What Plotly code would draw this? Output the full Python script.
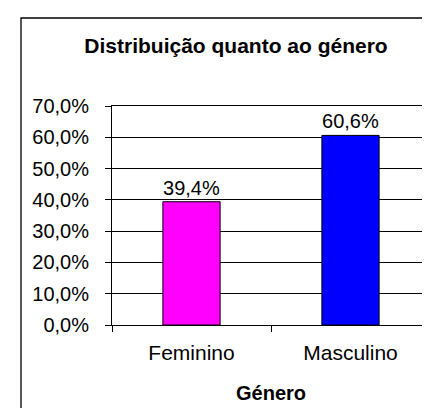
import plotly.graph_objects as go

categories = ["Feminino", "Masculino"]
values = [0.394, 0.606]
colors = ["#FF00FF", "#0000FF"]
title_text = "Distribuição quanto ao género"
x_title = "Género"

FONT = "Liberation Sans, Arial, sans-serif"

fig = go.Figure()
fig.add_trace(go.Bar(
    x=categories, y=values,
    marker=dict(color=colors, line=dict(color="black", width=1)),
    texttemplate="%{y:.1%}", textposition="outside",
    textfont=dict(family=FONT, size=20, color="black"),
    cliponaxis=False,
))

L, R, T, B = 104, 8, 98, 91
W, H = 430, 408
pw, ph = W - L - R, H - T - B

fig.update_layout(
    width=W, height=H,
    margin=dict(l=L, r=R, t=T, b=B, pad=0),
    paper_bgcolor="white", plot_bgcolor="white",
    separators=",.",
    bargap=0.64,
    showlegend=False,
    font=dict(family=FONT, size=20, color="black"),
    title=dict(text="<b>" + title_text + "</b>", x=228 / W, xanchor="center",
               y=1 - 38 / H, yanchor="middle",
               font=dict(family=FONT, size=21, color="black")),
)
fig.update_yaxes(
    range=[0, 0.7], dtick=0.1, tickformat=".1%",
    showgrid=True, gridcolor="black", gridwidth=1,
    showline=True, linecolor="black", linewidth=1, mirror=True,
    ticks="outside", ticklen=6, tickcolor="black", ticklabelstandoff=12,
    tickfont=dict(family=FONT, size=20, color="black"),
    zeroline=False, fixedrange=True,
)
fig.update_xaxes(
    showline=True, linecolor="black", linewidth=1, mirror=True,
    ticks="outside", ticklen=6, tickcolor="black", tickson="boundaries",
    ticklabelstandoff=9,
    tickfont=dict(family=FONT, size=21, color="black"),
    title=dict(text="<b>" + x_title + "</b>", standoff=22,
               font=dict(family=FONT, size=20, color="black")),
    fixedrange=True,
)
# outer chart border (right and bottom edges fall outside the picture)
fig.add_shape(type="rect", xref="paper", yref="paper",
              x0=(13 - L) / pw, x1=(W + 20 - L) / pw,
              y0=-(H + 20 - (H - B)) / ph, y1=1 + (T - 10) / ph,
              line=dict(color="black", width=1.3), fillcolor="rgba(0,0,0,0)",
              layer="above")
fig.write_html("out.html")
